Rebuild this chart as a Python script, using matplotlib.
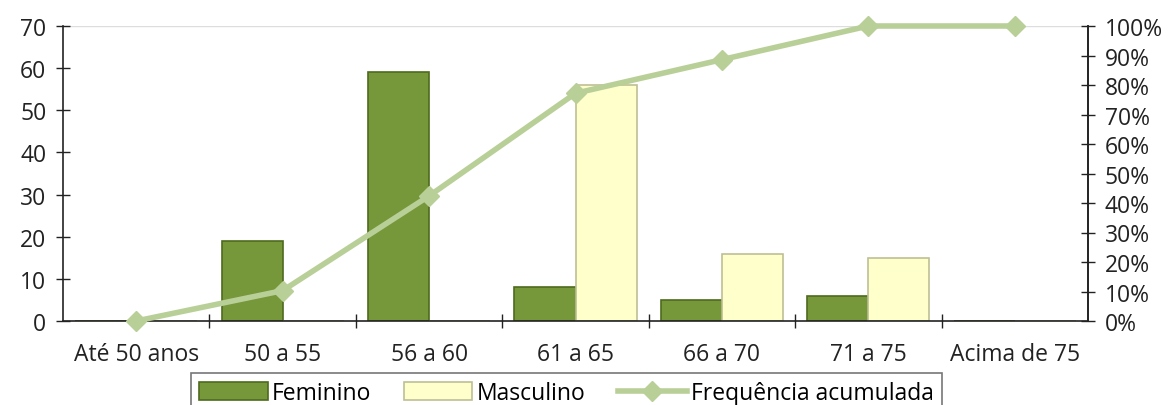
import matplotlib
matplotlib.use("Agg")
import matplotlib.pyplot as plt
import numpy as np
from matplotlib.ticker import FuncFormatter, FixedLocator

plt.rcParams['font.family'] = ['Open Sans', 'DejaVu Sans']

categories = ["Até 50 anos", "50 a 55", "56 a 60", "61 a 65", "66 a 70", "71 a 75", "Acima de 75"]
feminino = [0, 19, 59, 8, 5, 6, 0]
masculino = [0, 0, 0, 56, 16, 15, 0]
freq_acumulada = [0, 10.3, 42.4, 77.2, 88.6, 100, 100]
left_ticks = [0, 10, 20, 30, 40, 50, 60, 70]
right_ticks = [0, 10, 20, 30, 40, 50, 60, 70, 80, 90, 100]

W, H = 1176, 406
fig = plt.figure(figsize=(W / 100, H / 100), dpi=100)
ax = fig.add_axes([63 / W, 1 - 322 / H, (1088 - 63) / W, (322 - 27) / H])

x = np.arange(len(categories))
bw = 0.417
fem_color = "#76973A"
fem_edge = "#4E6B1C"
masc_color = "#FFFFCC"
masc_edge = "#BFBF95"
line_color = "#B9CF98"
txt = "#222222"
fs = 16.5

b1 = ax.bar(x - bw / 2, feminino, width=bw, color=fem_color, edgecolor=fem_edge, linewidth=1.2, zorder=2)
b2 = ax.bar(x + bw / 2, masculino, width=bw, color=masc_color, edgecolor=masc_edge, linewidth=1.2, zorder=2)

ax.set_xlim(-0.5, len(categories) - 0.5)
ax.set_ylim(0, 70)
ax.set_yticks(left_ticks)
ax.axhline(70, color="#DDDDDD", linewidth=1.0, zorder=0)

ax.set_xticks(x)
ax.set_xticklabels(categories)
ax.xaxis.set_minor_locator(FixedLocator(np.arange(0.5, len(categories) - 0.5, 1)))
ax.tick_params(axis='x', which='major', length=0, pad=15, labelsize=fs, colors=txt)
ax.tick_params(axis='x', which='minor', direction='inout', length=10, width=1.0, color=txt)
ax.tick_params(axis='y', direction='inout', length=10, width=1.0, labelsize=fs, colors=txt, pad=7)

ax.spines['top'].set_visible(False)
for s in ['left', 'bottom', 'right']:
    ax.spines[s].set_color(txt)
    ax.spines[s].set_linewidth(1.2)

ax2 = ax.twinx()
ax2.set_ylim(0, 100)
ax2.set_yticks(right_ticks)
ax2.yaxis.set_major_formatter(FuncFormatter(lambda v, p: f"{int(v)}%"))
ax2.tick_params(axis='y', direction='inout', length=10, width=1.0, labelsize=fs, colors=txt, pad=7)
for s in ['top', 'left', 'bottom']:
    ax2.spines[s].set_visible(False)
ax2.spines['right'].set_color(txt)
ax2.spines['right'].set_linewidth(1.2)
ln, = ax2.plot(x, freq_acumulada, color=line_color, linewidth=4, marker='D', markersize=10,
               markerfacecolor=line_color, markeredgecolor=line_color, zorder=3, clip_on=False)

leg = fig.legend([b1, b2, ln], ["Feminino", "Masculino", "Frequência acumulada"],
                 loc='upper center', bbox_to_anchor=(566.5 / W, 1 - 374 / H), ncol=3,
                 frameon=True, fancybox=False, fontsize=fs, handlelength=3.0, handleheight=0.8,
                 columnspacing=1.4, handletextpad=0.2, borderpad=0.35, borderaxespad=0)
leg.get_frame().set_edgecolor("#555555")
leg.get_frame().set_linewidth(1.2)

fig.savefig("out.png", dpi=100)
